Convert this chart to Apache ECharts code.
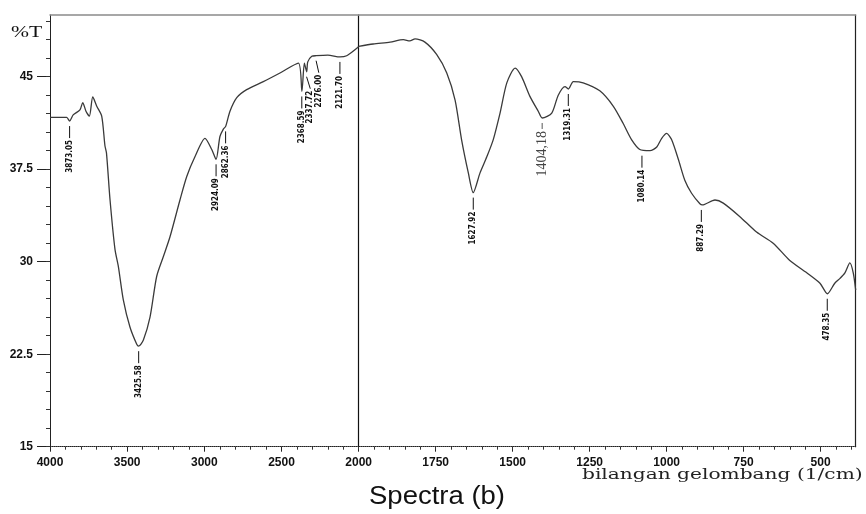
<!DOCTYPE html>
<html>
<head>
<meta charset="utf-8">
<title>Spectra (b)</title>
<script src="https://cdn.jsdelivr.net/npm/echarts@6.0.0/dist/echarts.min.js"></script>
<style>
  html, body { margin: 0; padding: 0; background: #ffffff; }
  #chart { width: 866px; height: 514px; }
</style>
</head>
<body>
<div id="chart"></div>
<script>
// 4000 - 2000 1/cm (compressed half of the chart)
const waveLeft = [4000, 3892, 3873, 3850, 3806, 3788, 3767, 3745, 3723, 3697, 3665, 3644, 3634, 3611, 3579, 3557,
  3525, 3482, 3438, 3426, 3395, 3352, 3309, 3266, 3223, 3158, 3114, 3061, 2996, 2952, 2924, 2899,
  2877, 2862, 2834, 2790, 2726, 2618, 2510, 2391, 2368, 2352, 2337, 2330, 2304, 2276, 2200, 2121,
  2078, 2013, 2000];
const transLeft = [41.7, 41.7, 41.4, 41.9, 42.3, 42.9, 42.2, 41.8, 43.35, 42.6, 41.8, 39.4, 38.8, 35.0, 31.0, 29.6,
  26.9, 24.7, 23.3, 23.15, 23.65, 25.5, 28.8, 30.4, 32.0, 35.0, 36.9, 38.5, 40.0, 39.1, 38.3, 40.15,
  40.75, 40.97, 42.2, 43.3, 43.95, 44.6, 45.3, 46.1, 43.8, 46.1, 45.4, 46.2, 46.65, 46.7, 46.75, 46.6,
  46.7, 47.3, 47.45];

// 2000 - 386 1/cm (expanded half of the chart)
const waveRight = [2000, 1953, 1898, 1855, 1834, 1817, 1785, 1747, 1714, 1687, 1666, 1644, 1628, 1606, 1584, 1563,
  1541, 1519, 1492, 1471, 1444, 1417, 1404, 1373, 1352, 1330, 1319, 1303, 1271, 1217, 1173, 1141,
  1114, 1087, 1054, 1032, 1016, 1000, 984, 962, 941, 919, 892, 884, 843, 816, 762, 708,
  654, 600, 545, 502, 478, 454, 437, 421, 405, 394, 386];
const transRight = [47.45, 47.65, 47.8, 48.0, 47.9, 48.06, 47.8, 46.8, 45.3, 43.1, 39.9, 37.2, 35.6, 37.2, 38.5, 39.9,
  42.05, 44.5, 45.7, 45.0, 43.4, 42.2, 41.65, 42.05, 43.5, 44.2, 44.0, 44.6, 44.5, 43.85, 42.6, 41.2,
  39.9, 39.1, 39.0, 39.3, 40.0, 40.4, 39.9, 38.3, 36.6, 35.55, 34.7, 34.6, 35.0, 34.75, 33.65, 32.4,
  31.5, 30.1, 29.1, 28.25, 27.4, 28.25, 28.65, 29.1, 29.9, 29.1, 27.7];

// peak annotations
const peakWaveLeft = [3873.05, 3425.58, 2924.09, 2862.36, 2368.59, 2337.72, 2276.00, 2121.70];
const peakTransLeft = [41.4, 23.15, 38.3, 40.97, 43.8, 45.4, 46.7, 46.6];
const peakTextLeft = ['3873.05', '3425.58', '2924.09', '2862.36', '2368.59', '2337.72', '2276.00', '2121.70'];
const peakWaveRight = [1627.92, 1404.18, 1319.31, 1080.14, 887.29, 478.35];
const peakTransRight = [35.6, 41.65, 44.0, 39.0, 34.6, 27.4];
const peakTextRight = ['1627.92', '1404,18', '1319.31', '1080.14', '887.29', '478.35'];

// axis ticks
const xTicksRight = [500, 750, 1000, 1250, 1500, 1750];
const yTicksMajor = [15, 22.5, 30, 37.5, 45];
const yTicksMinor = [];
for (let v = 15; v < 50; v += 1.5) yTicksMinor.push(v);
const xMinorRight = [];
for (let v = 400; v <= 2000; v += 50) xMinorRight.push(v);

const chart = echarts.init(document.getElementById('chart'));

const tickFont = {
  color: '#111', fontFamily: 'Liberation Sans', fontWeight: 'bold', fontSize: 12,
  formatter: v => String(v)
};
const blank = { show: false };

// small vertical tick + rotated wavenumber text under each marked band
function peakSeries(waves, trans, texts, xIdx, yIdx) {
  return {
    type: 'custom',
    xAxisIndex: xIdx,
    yAxisIndex: yIdx,
    clip: false,
    silent: true,
    data: waves.map((w, i) => [w, trans[i]]),
    renderItem: (params, api) => {
      const i = params.dataIndex;
      const p = api.coord([api.value(0), api.value(1)]);
      const text = texts[i];
      const serif = text.indexOf(',') >= 0;
      const lineEnd = serif ? 11 : 17;
      // crowded labels are pushed right, the leader line bends to them
      let labelX = api.coord([waves[0], trans[0]])[0];
      for (let k = 1; k <= i; k++) {
        labelX = Math.max(api.coord([waves[k], trans[k]])[0], labelX + 8.5);
      }
      return {
        type: 'group',
        children: [
          {
            type: 'line',
            shape: { x1: p[0], y1: p[1] + 5, x2: labelX, y2: p[1] + lineEnd },
            style: { stroke: serif ? '#555' : '#111', lineWidth: 1 }
          },
          {
            type: 'text',
            x: labelX,
            y: p[1] + lineEnd + 2,
            rotation: Math.PI / 2,
            style: {
              text: text,
              align: 'right',
              verticalAlign: 'middle',
              fill: serif ? '#444' : '#111',
              font: serif ? '14px "Liberation Serif"' : 'bold 8px "DejaVu Sans Condensed"'
            }
          }
        ]
      };
    }
  };
}

chart.setOption({
  animation: false,
  backgroundColor: '#ffffff',
  grid: [
    { left: 50, top: 15, width: 308.7, height: 431.7, outerBoundsMode: 'none' },
    { left: 358.7, top: 15, width: 497, height: 431.7, outerBoundsMode: 'none' }
  ],
  xAxis: [
    {
      gridIndex: 0, type: 'value', position: 'bottom', inverse: true,
      min: 2000, max: 4000, interval: 500,
      axisLine: { lineStyle: { color: '#222', type: 'dotted', width: 1 } },
      axisTick: { length: 5, lineStyle: { color: '#222' } },
      minorTick: { show: true, splitNumber: 5, length: 3, lineStyle: { color: '#333' } },
      axisLabel: Object.assign({ margin: 10 }, tickFont),
      splitLine: blank
    },
    {
      gridIndex: 1, type: 'value', position: 'bottom', inverse: true,
      min: 386, max: 2000,
      axisLine: { lineStyle: { color: '#222', type: 'dotted', width: 1 } },
      axisTick: { length: 5, customValues: xTicksRight, lineStyle: { color: '#222' } },
      axisLabel: Object.assign({ margin: 10, customValues: xTicksRight }, tickFont),
      splitLine: blank
    },
    {
      gridIndex: 1, type: 'value', position: 'bottom', inverse: true,
      min: 386, max: 2000,
      axisLine: blank,
      axisTick: { length: 3, customValues: xMinorRight, lineStyle: { color: '#333' } },
      axisLabel: blank,
      splitLine: blank
    },
    {
      gridIndex: 0, type: 'value', position: 'top', inverse: true, min: 2000, max: 4000,
      axisLine: { lineStyle: { color: '#8a8a8a', width: 1.5 } },
      axisTick: blank, axisLabel: blank, splitLine: blank
    },
    {
      gridIndex: 1, type: 'value', position: 'top', inverse: true, min: 386, max: 2000,
      axisLine: { lineStyle: { color: '#8a8a8a', width: 1.5 } },
      axisTick: blank, axisLabel: blank, splitLine: blank
    }
  ],
  yAxis: [
    {
      gridIndex: 0, type: 'value', position: 'left', min: 15, max: 50,
      axisLine: { lineStyle: { color: '#222', width: 1 } },
      axisTick: { length: 13, customValues: yTicksMajor, lineStyle: { color: '#222' } },
      axisLabel: Object.assign({ margin: 17, customValues: yTicksMajor }, tickFont),
      splitLine: blank
    },
    {
      gridIndex: 0, type: 'value', position: 'left', min: 15, max: 50,
      axisLine: blank,
      axisTick: { length: 4, customValues: yTicksMinor, lineStyle: { color: '#333' } },
      axisLabel: blank,
      splitLine: blank
    },
    {
      gridIndex: 1, type: 'value', position: 'left', min: 15, max: 50,
      axisLine: { lineStyle: { color: '#111', width: 1.2 } },
      axisTick: blank, axisLabel: blank, splitLine: blank
    },
    {
      gridIndex: 1, type: 'value', position: 'right', min: 15, max: 50,
      axisLine: { lineStyle: { color: '#222', width: 1.2 } },
      axisTick: blank, axisLabel: blank, splitLine: blank
    }
  ],
  series: [
    {
      type: 'line', xAxisIndex: 0, yAxisIndex: 0,
      data: waveLeft.map((w, i) => [w, transLeft[i]]),
      showSymbol: false, smooth: 0.25,
      lineStyle: { color: '#3a3a3a', width: 1.3 }
    },
    {
      type: 'line', xAxisIndex: 1, yAxisIndex: 2,
      data: waveRight.map((w, i) => [w, transRight[i]]),
      showSymbol: false, smooth: 0.25,
      lineStyle: { color: '#3a3a3a', width: 1.3 }
    },
    peakSeries(peakWaveLeft, peakTransLeft, peakTextLeft, 0, 0),
    peakSeries(peakWaveRight, peakTransRight, peakTextRight, 1, 2)
  ],
  graphic: [
    {
      type: 'text', x: 11, y: 25, scaleX: 1.35,
      style: { text: '%T', font: '16px "Liberation Serif"', fill: '#111', verticalAlign: 'top' }
    },
    {
      type: 'text', x: 582, y: 468, scaleX: 1.44,
      style: { text: 'bilangan gelombang (1/cm)', font: '14px "DejaVu Serif"', fill: '#222', verticalAlign: 'top' }
    },
    {
      type: 'text', x: 369, y: 485, scaleX: 1.1,
      style: { text: 'Spectra (b)', font: '25px "Liberation Sans"', fill: '#111', verticalAlign: 'top' }
    }
  ]
});
</script>
</body>
</html>
